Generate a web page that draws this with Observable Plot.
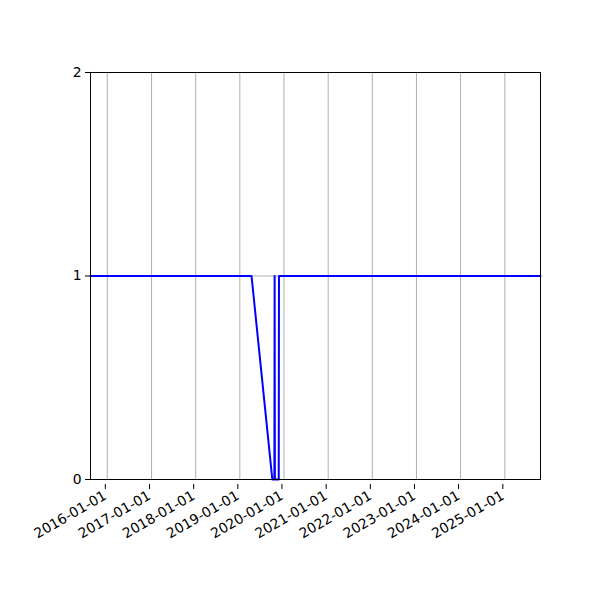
<!DOCTYPE html>
<html>
<head>
<meta charset="utf-8">
<script src="https://cdn.jsdelivr.net/npm/d3@7"></script>
<script src="https://cdn.jsdelivr.net/npm/@observablehq/plot@0.6"></script>
<style>
html,body{margin:0;padding:0;background:#fff;}
svg{display:block;}
</style>
</head>
<body>
<div id="chart"></div>
<script>
const dates = ["2015-08-15","2019-04-08","2019-09-27","2019-10-14","2019-10-16","2019-10-18","2019-11-19","2019-11-21","2025-10-23"];
const values = [1, 1, 0, 0, 1, 0, 0, 1, 1];
const xTickLabels = ["2016-01-01","2017-01-01","2018-01-01","2019-01-01","2020-01-01","2021-01-01","2022-01-01","2023-01-01","2024-01-01","2025-01-01"];
const yTicks = [0, 1, 2];

const data = dates.map((d, i) => ({date: new Date(d + "T00:00:00Z"), value: values[i]}));
const xTicks = xTickLabels.map(s => new Date(s + "T00:00:00Z"));

const chart = Plot.plot({
  width: 600,
  height: 600,
  marginLeft: 90,
  marginRight: 60,
  marginTop: 72,
  marginBottom: 121,
  style: {fontFamily: "DejaVu Sans", fontSize: "13.9px", background: "#fff", color: "black"},
  x: {type: "utc", domain: [data[0].date, data[data.length - 1].date]},
  y: {domain: [0, 2]},
  marks: [
    Plot.gridX(xTicks, {stroke: "#b0b0b0", strokeOpacity: 1, strokeWidth: 1}),
    Plot.gridY(yTicks, {stroke: "#b0b0b0", strokeOpacity: 1, strokeWidth: 1}),
    Plot.line(data, {x: "date", y: "value", stroke: "blue", strokeWidth: 2}),
    Plot.frame({stroke: "black", strokeWidth: 1}),
    Plot.axisX(xTicks, {tickFormat: d3.utcFormat("%Y-%m-%d"), tickRotate: -30, tickSize: 5, tickPadding: 5, dy: 5, dx: -2, label: null, fontSize: 13.9}),
    Plot.axisY(yTicks, {tickFormat: d => String(d), tickSize: 5, tickPadding: 4, label: null, fontSize: 13.9})
  ]
});
document.getElementById("chart").appendChild(chart);
</script>
</body>
</html>
